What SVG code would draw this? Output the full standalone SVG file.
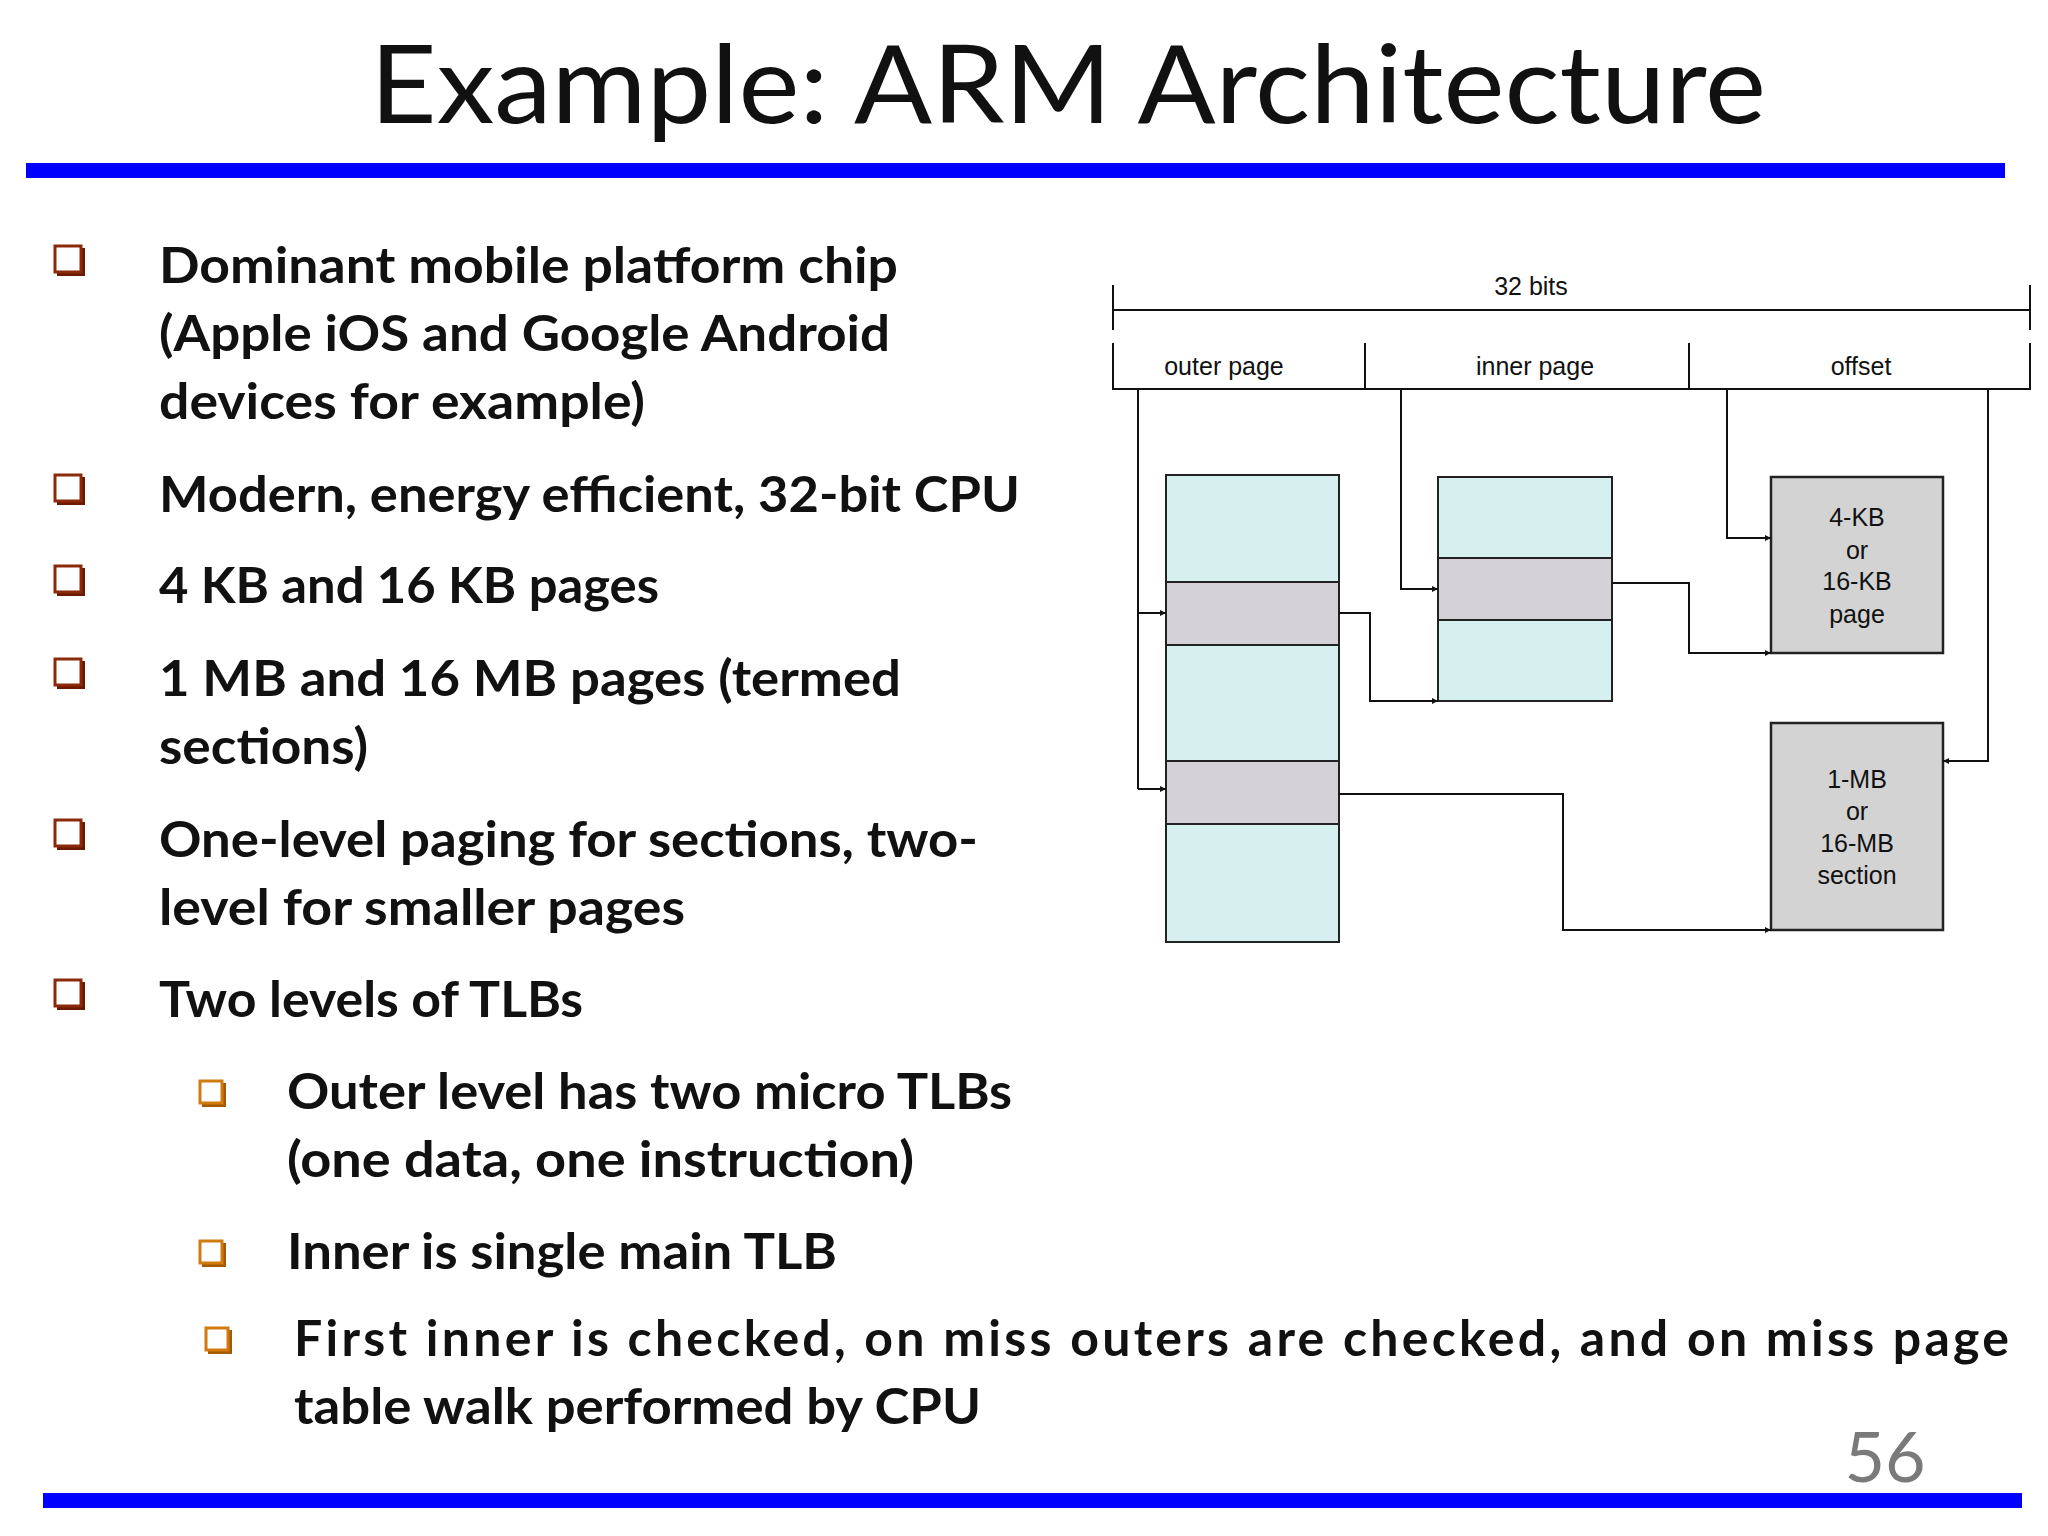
<svg xmlns="http://www.w3.org/2000/svg" width="2048" height="1536" viewBox="0 0 2048 1536">
<defs>
<style>
.t{font-family:Lato,"Open Sans",sans-serif;font-weight:bold;font-size:50px;fill:#111}
.d{font-family:"Liberation Sans",Arial,sans-serif;font-size:25px;fill:#111;text-anchor:middle}
.ln{fill:none;stroke:#111;stroke-width:2}
.cy{fill:#D6F0F0;stroke:#222;stroke-width:2}
.gr{fill:#D4D2D6;stroke:#222;stroke-width:2}
.bx{fill:#D3D3D3;stroke:#222;stroke-width:2.5}
</style>
<marker id="ar" viewBox="0 0 10 10" refX="10" refY="5" markerWidth="6" markerHeight="6" orient="auto" markerUnits="userSpaceOnUse"><path d="M0,0L10,5L0,10z" fill="#111"/></marker>
<g id="cb"><rect x="2" y="8" width="28" height="28" fill="#6b1a00"/><rect x="0" y="6" width="26" height="26" fill="#fff" stroke="#8B2A0A" stroke-width="3"/></g>
<g id="cs"><rect x="2" y="6" width="24" height="24" fill="#a35a00"/><rect x="0" y="4" width="22" height="22" fill="#fff" stroke="#D07A10" stroke-width="3"/></g>
</defs>
<rect width="2048" height="1536" fill="#fff"/>
<text x="1068" y="123" font-family="Lato,'Open Sans',sans-serif" font-size="108" text-anchor="middle" textLength="1396" lengthAdjust="spacingAndGlyphs" fill="#111">Example: ARM Architecture</text>
<rect x="26" y="163" width="1979" height="15" fill="#0000FF"/>
<rect x="43" y="1493" width="1979" height="15" fill="#0000FF"/>
<text x="1885" y="1482" font-family="Lato,sans-serif" font-size="70" text-anchor="middle" fill="#7a7a7a">56</text>
<g id="bullets">
<use href="#cb" x="55" y="240"/><use href="#cb" x="55" y="469"/><use href="#cb" x="55" y="560"/><use href="#cb" x="55" y="653"/><use href="#cb" x="55" y="814"/><use href="#cb" x="55" y="974"/>
<use href="#cs" x="200" y="1077"/><use href="#cs" x="200" y="1237"/><use href="#cs" x="206" y="1324"/>
</g>
<g id="text">
<text class="t" x="159" y="283" textLength="739" lengthAdjust="spacingAndGlyphs">Dominant mobile platform chip</text>
<text class="t" x="159" y="351" textLength="731" lengthAdjust="spacingAndGlyphs">(Apple iOS and Google Android</text>
<text class="t" x="159" y="419" textLength="486" lengthAdjust="spacingAndGlyphs">devices for example)</text>
<text class="t" x="159" y="512" textLength="861" lengthAdjust="spacingAndGlyphs">Modern, energy efficient, 32-bit CPU</text>
<text class="t" x="159" y="603" textLength="500" lengthAdjust="spacingAndGlyphs">4 KB and 16 KB pages</text>
<text class="t" x="159" y="696" textLength="742" lengthAdjust="spacingAndGlyphs">1 MB and 16 MB pages (termed</text>
<text class="t" x="159" y="764" textLength="209" lengthAdjust="spacingAndGlyphs">sections)</text>
<text class="t" x="159" y="857" textLength="819" lengthAdjust="spacingAndGlyphs">One-level paging for sections, two-</text>
<text class="t" x="159" y="925" textLength="526" lengthAdjust="spacingAndGlyphs">level for smaller pages</text>
<text class="t" x="159" y="1017" textLength="424" lengthAdjust="spacingAndGlyphs">Two levels of TLBs</text>
<text class="t" x="287" y="1109" textLength="725" lengthAdjust="spacingAndGlyphs">Outer level has two micro TLBs</text>
<text class="t" x="287" y="1177" textLength="627" lengthAdjust="spacingAndGlyphs">(one data, one instruction)</text>
<text class="t" x="287" y="1269" textLength="550" lengthAdjust="spacingAndGlyphs">Inner is single main TLB</text>
<text class="t" x="294" y="1356" textLength="1715" lengthAdjust="spacing">First inner is checked, on miss outers are checked, and on miss page</text>
<text class="t" x="294" y="1424" textLength="687" lengthAdjust="spacingAndGlyphs">table walk performed by CPU</text>
</g>
<g id="address">
<text class="d" x="1531" y="295">32 bits</text>
<path class="ln" d="M1113,310H2030M1113,285V330M2030,285V330"/>
<path class="ln" d="M1113,343V389H2030V343M1365,343V389M1689,343V389"/>
<text class="d" x="1224" y="367" dy="8">outer page</text>
<text class="d" x="1535" y="367" dy="8">inner page</text>
<text class="d" x="1861" y="367" dy="8">offset</text>
</g>
<g id="outer-table">
<rect class="cy" x="1166" y="475" width="173" height="467"/>
<rect class="gr" x="1166" y="582" width="173" height="63"/>
<rect class="gr" x="1166" y="761" width="173" height="63"/>
</g>
<g id="inner-table">
<rect class="cy" x="1438" y="477" width="174" height="224"/>
<rect class="gr" x="1438" y="558" width="174" height="62"/>
</g>
<g id="page">
<rect class="bx" x="1771" y="477" width="172" height="176"/>
<text class="d" x="1857" y="526">4-KB</text><text class="d" x="1857" y="559">or</text><text class="d" x="1857" y="590">16-KB</text><text class="d" x="1857" y="623">page</text>
</g>
<g id="section">
<rect class="bx" x="1771" y="723" width="172" height="207"/>
<text class="d" x="1857" y="788">1-MB</text><text class="d" x="1857" y="820">or</text><text class="d" x="1857" y="852">16-MB</text><text class="d" x="1857" y="884">section</text>
</g>
<g id="connectors">
<path class="ln" d="M1138,389V789"/>
<path class="ln" d="M1138,613H1166" marker-end="url(#ar)"/>
<path class="ln" d="M1138,789H1166" marker-end="url(#ar)"/>
<path class="ln" d="M1401,389V589H1438" marker-end="url(#ar)"/>
<path class="ln" d="M1727,389V538H1771" marker-end="url(#ar)"/>
<path class="ln" d="M1988,389V761H1943" marker-end="url(#ar)"/>
<path class="ln" d="M1339,613H1370V701H1438" marker-end="url(#ar)"/>
<path class="ln" d="M1612,583H1689V653H1771" marker-end="url(#ar)"/>
<path class="ln" d="M1339,794H1563V930H1771" marker-end="url(#ar)"/>
</g>
</svg>
